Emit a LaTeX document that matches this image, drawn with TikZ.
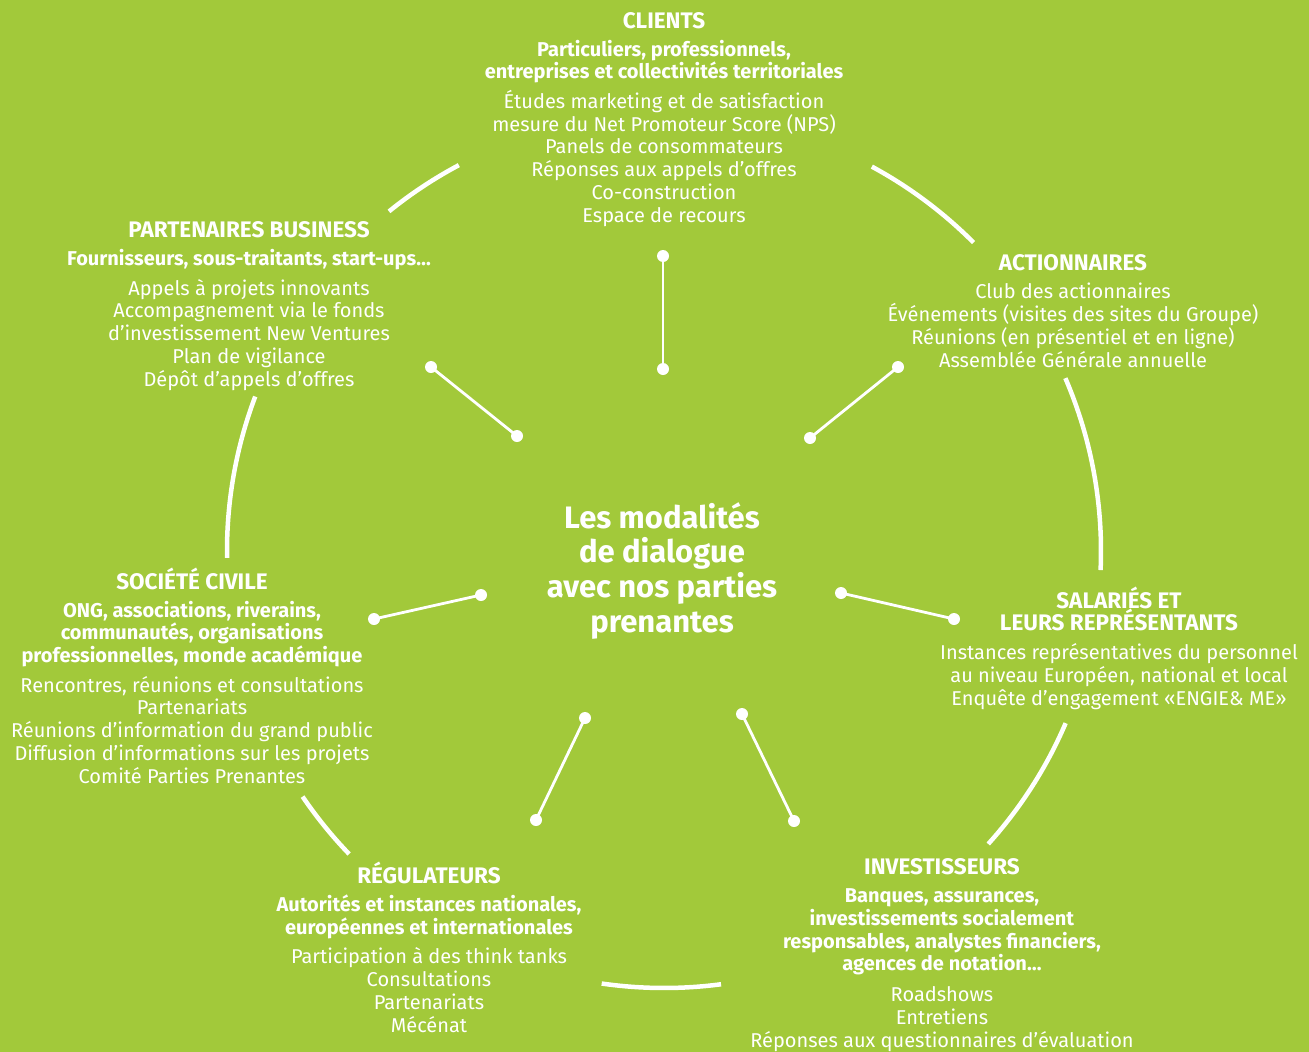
\documentclass[tikz,border=0pt]{standalone}
\usepackage{fontspec}
\setmainfont{Fira Sans}
\definecolor{bg}{RGB}{162,201,58}
\tikzset{
  blk/.style={align=center, text=white, inner sep=0pt, anchor=base, font=\fontsize{20}{22.7}\selectfont},
  ctr/.style={align=center, text=white, inner sep=0pt, anchor=base, font=\fontsize{31}{34.6}\selectfont\bfseries},
  ring/.style={draw=white, line width=4.5pt},
  conn/.style={draw=white, line width=2.8pt},
  dot/.style={circle, fill=white, inner sep=0pt, minimum size=12pt},
}
\newcommand\hd[1]{\textbf{#1}}
\newcommand\tl[1]{{\fontsize{22.5}{22.7}\selectfont\bfseries #1}}
\begin{document}
\begin{tikzpicture}[x=1pt,y=-1pt]
\fill[bg] (0,0) rectangle (1309,1052);
\useasboundingbox (0,0) rectangle (1309,1052);
\coordinate (O) at (664,551);
% ring arcs
\draw[ring] (O) ++(-129:437) arc[start angle=-129, end angle=-118, radius=437];
\draw[ring] (O) ++(-61.6:437) arc[start angle=-61.6, end angle=-44.9, radius=437];
\draw[ring] (O) ++(-23.3:437) arc[start angle=-23.3, end angle=2.5, radius=437];
\draw[ring] (O) ++(23.2:437) arc[start angle=23.2, end angle=42.1, radius=437];
\draw[ring] (O) ++(82.5:437) arc[start angle=82.5, end angle=98.2, radius=437];
\draw[ring] (O) ++(136.1:437) arc[start angle=136.1, end angle=145.8, radius=437];
\draw[ring] (O) ++(179.1:437) arc[start angle=179.1, end angle=200.7, radius=437];
% connectors
\node[dot] (a1) at (663,256) {}; \node[dot] (a2) at (663,369) {};
\node[dot] (b1) at (431,367) {}; \node[dot] (b2) at (517,436) {};
\node[dot] (c1) at (898,367) {}; \node[dot] (c2) at (810,438) {};
\node[dot] (d1) at (374,619) {}; \node[dot] (d2) at (481,595) {};
\node[dot] (e1) at (954,619) {}; \node[dot] (e2) at (841,593) {};
\node[dot] (f1) at (585,718) {}; \node[dot] (f2) at (536,820) {};
\node[dot] (g1) at (742,714) {}; \node[dot] (g2) at (794,821) {};
\draw[conn] (a1.center) -- (a2.center);
\draw[conn] (b1.center) -- (b2.center);
\draw[conn] (c1.center) -- (c2.center);
\draw[conn] (d1.center) -- (d2.center);
\draw[conn] (e1.center) -- (e2.center);
\draw[conn] (f1.center) -- (f2.center);
\draw[conn] (g1.center) -- (g2.center);
% centre (anchor base = baseline of last line)
\node[ctr] (centre) at (662,632) {Les modalités\\de dialogue\\avec nos parties\\prenantes};
% blocks (anchor base = baseline of last line)
\node[blk] (clients) at (664,222) {\tl{CLIENTS}\\[5pt]
\hd{Particuliers, professionnels,}\\\hd{entreprises et collectivités territoriales}\\[7pt]
Études marketing et de satisfaction\\mesure du Net Promoteur Score (NPS)\\Panels de consommateurs\\Réponses aux appels d’offres\\Co-construction\\Espace de recours};
\node[blk] (partners) at (249,386) {\tl{PARTENAIRES BUSINESS}\\[5pt]
\hd{Fournisseurs, sous-traitants, start-ups…}\\[7pt]
Appels à projets innovants\\Accompagnement via le fonds\\d’investissement New Ventures\\Plan de vigilance\\Dépôt d’appels d’offres};
\node[blk] (share) at (1073,367) {\tl{ACTIONNAIRES}\\[5.5pt]
Club des actionnaires\\Événements (visites des sites du Groupe)\\Réunions (en présentiel et en ligne)\\Assemblée Générale annuelle};
\node[blk] (staff) at (1119,705) {\tl{SALARIÉS ET}\\\tl{LEURS REPRÉSENTANTS}\\[6pt]
Instances représentatives du personnel\\au niveau Européen, national et local\\Enquête d’engagement «ENGIE\& ME»};
\node[blk] (civil) at (192,783) {\tl{SOCIÉTÉ CIVILE}\\[5pt]
\hd{ONG, associations, riverains,}\\\hd{communautés, organisations}\\\hd{professionnelles, monde académique}\\[7pt]
Rencontres, réunions et consultations\\Partenariats\\Réunions d’information du grand public\\Diffusion d’informations sur les projets\\Comité Parties Prenantes};
\node[blk] (reg) at (429,1032) {\tl{RÉGULATEURS}\\[5pt]
\hd{Autorités et instances nationales,}\\\hd{européennes et internationales}\\[7pt]
Participation à des think tanks\\Consultations\\Partenariats\\Mécénat};
\node[blk] (inv) at (942,1047) {\tl{INVESTISSEURS}\\[6pt]
\hd{Banques, assurances,}\\\hd{investissements socialement}\\\hd{responsables, analystes financiers,}\\\hd{agences de notation…}\\[8pt]
Roadshows\\Entretiens\\Réponses aux questionnaires d’évaluation};
\end{tikzpicture}
\end{document}
